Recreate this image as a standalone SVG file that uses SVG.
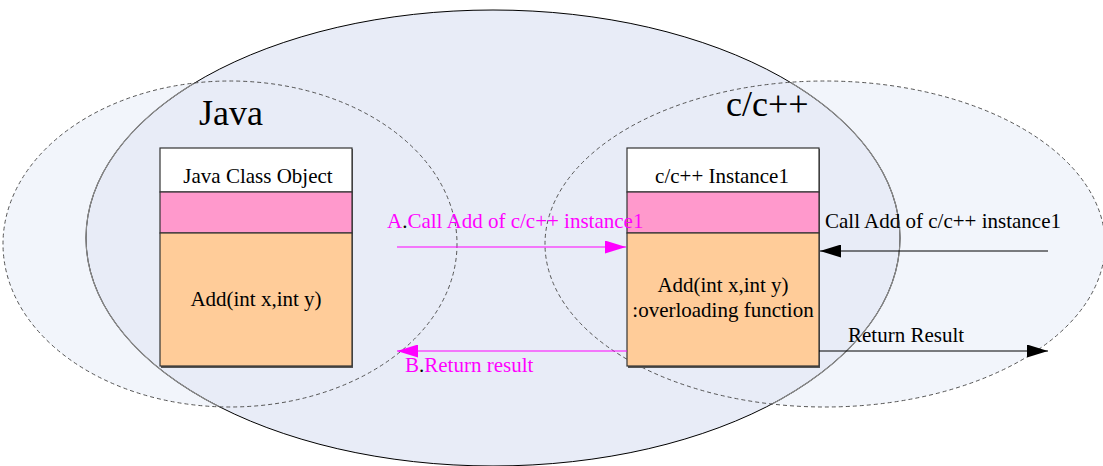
<svg xmlns="http://www.w3.org/2000/svg" width="1103" height="466" viewBox="0 0 1103 466">
<style>
text{font-family:"Liberation Serif","Times New Roman",serif;}
.lbl{font-size:21px;fill:#000;}
.mag{font-size:21px;fill:#FF00FF;}
.title{font-size:36px;fill:#000;}
.dash{fill:none;stroke:#555;stroke-width:1;stroke-dasharray:4,3;}
.hdr{fill:#FFFFFF;stroke:#333;stroke-width:1.2;}
.pink{fill:#FF99CC;stroke:#333;stroke-width:1.2;}
.body{fill:#FFCC99;stroke:#333;stroke-width:1.2;}
.shadow{fill:#555;}
</style>
<defs>
<marker id="mhead" viewBox="0 0 21 13" refX="21" refY="6.5" markerWidth="21" markerHeight="13" markerUnits="userSpaceOnUse" orient="auto">
<path d="M0,0 L21,6.5 L0,13 Z" fill="#FF00FF"/>
</marker>
<marker id="khead" viewBox="0 0 21 13" refX="21" refY="6.5" markerWidth="21" markerHeight="13" markerUnits="userSpaceOnUse" orient="auto">
<path d="M0,0 L21,6.5 L0,13 Z" fill="#000"/>
</marker>
<clipPath id="dashclip">
<ellipse cx="230" cy="244" rx="227" ry="163"/>
<ellipse cx="825" cy="244" rx="280" ry="163"/>
</clipPath>
</defs>
<rect width="1103" height="466" fill="#FFFFFF"/>
<g id="background">
<ellipse cx="230" cy="244" rx="227" ry="163" fill="#F2F5FB"/>
<ellipse cx="825" cy="244" rx="280" ry="163" fill="#F2F5FB"/>
<ellipse cx="493" cy="238" rx="407" ry="228" fill="#E8ECF7" stroke="#000" stroke-width="1"/>
<ellipse cx="493" cy="238" rx="407" ry="228" fill="none" stroke="#8A8A8A" stroke-width="1.2" clip-path="url(#dashclip)"/>
<ellipse class="dash" cx="230" cy="244" rx="227" ry="163"/>
<ellipse class="dash" cx="825" cy="244" rx="280" ry="163"/>
</g>
<g id="java-region-label">
<text class="title" x="199" y="125">Java</text>
</g>
<g id="cpp-region-label">
<text class="title" x="726" y="116">c/c++</text>
</g>
<g id="java-class-object">
<rect class="shadow" x="161" y="149" width="192" height="219"/>
<rect class="hdr" x="160" y="148" width="192" height="44"/>
<rect class="pink" x="160" y="192" width="192" height="41"/>
<rect class="body" x="160" y="233" width="192" height="133"/>
<text class="lbl" x="258" y="183" text-anchor="middle">Java Class Object</text>
<text class="lbl" x="256" y="306" text-anchor="middle">Add(int x,int y)</text>
</g>
<g id="cpp-instance1">
<rect class="shadow" x="628" y="149" width="192" height="219"/>
<rect class="hdr" x="627" y="148" width="192" height="44"/>
<rect class="pink" x="627" y="192" width="192" height="41"/>
<rect class="body" x="627" y="233" width="192" height="133"/>
<text class="lbl" x="722" y="183" text-anchor="middle">c/c++ Instance1</text>
<text class="lbl" x="723" y="292" text-anchor="middle">Add(int x,int y)</text>
<text class="lbl" x="723" y="317" text-anchor="middle">:overloading function</text>
</g>
<g id="connectors">
<line x1="397" y1="247" x2="626" y2="247" stroke="#FF00FF" stroke-width="1" marker-end="url(#mhead)"/>
<line x1="627" y1="351" x2="397" y2="351" stroke="#FF00FF" stroke-width="1" marker-end="url(#mhead)"/>
<line x1="1048" y1="251" x2="820" y2="251" stroke="#000" stroke-width="1" marker-end="url(#khead)"/>
<line x1="819" y1="351" x2="1048" y2="351" stroke="#000" stroke-width="1" marker-end="url(#khead)"/>
</g>
<g id="connector-labels">
<text class="mag" x="387" y="228">A<tspan fill="#000">.</tspan>Call Add of c/c++ instance1</text>
<text class="mag" x="405" y="372">B<tspan fill="#000">.</tspan>Return result</text>
<text class="lbl" x="825" y="228">Call Add of c/c++ instance1</text>
<text class="lbl" x="848" y="342">Return Result</text>
</g>
</svg>
